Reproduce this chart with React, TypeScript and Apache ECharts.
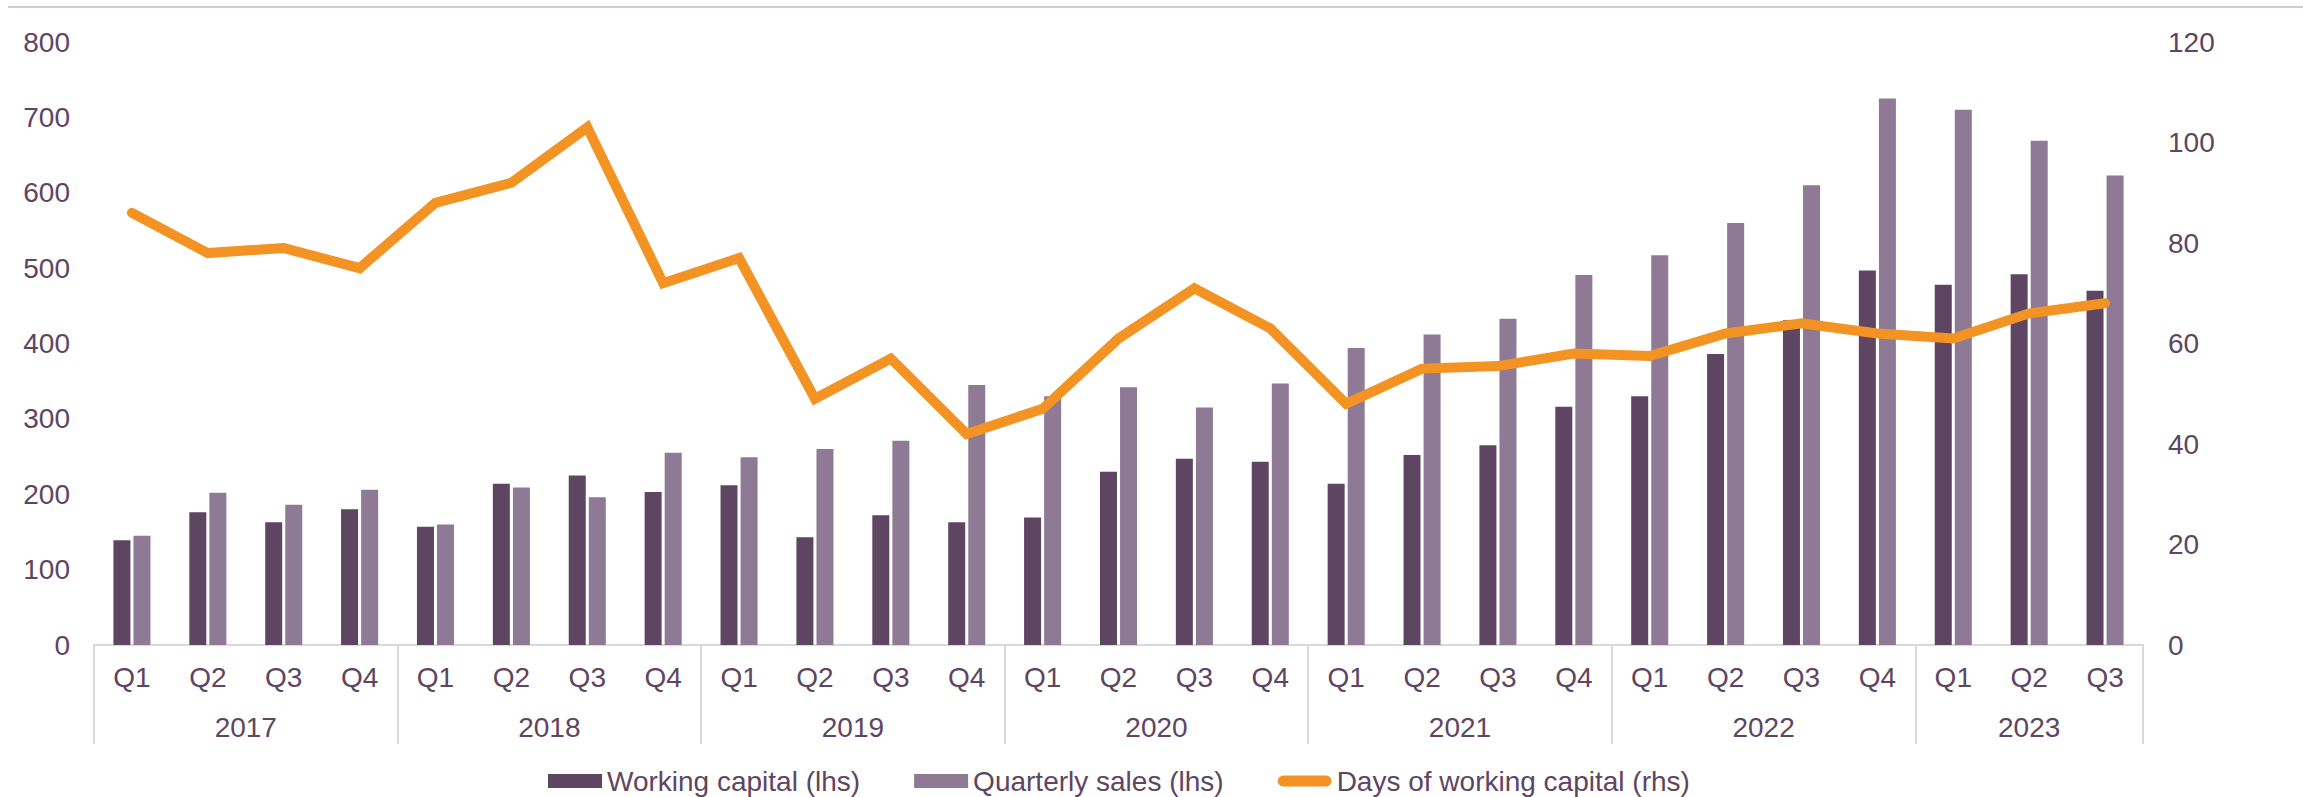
import React, { useEffect, useRef } from "react";
import * as echarts from "echarts";

const years = ["2017", "2018", "2019", "2020", "2021", "2022", "2023"];
const quartersPerYear = [4, 4, 4, 4, 4, 4, 3];
const quarterNames = ["Q1", "Q2", "Q3", "Q4"];

const workingCapital = [
  139, 176, 163, 180,
  157, 214, 225, 203,
  212, 143, 172, 163,
  169, 230, 247, 243,
  214, 252, 265, 316,
  330, 386, 431, 497,
  478, 492, 470,
];
const quarterlySales = [
  145, 202, 186, 206,
  160, 209, 196, 255,
  249, 260, 271, 345,
  330, 342, 315, 347,
  394, 412, 433, 491,
  517, 560, 610, 725,
  710, 669, 623,
];
const daysOfWorkingCapital = [
  86, 78, 79, 75,
  88, 92, 103, 72,
  77, 49, 57, 42,
  47, 61, 71, 63,
  48, 55, 55.5, 58,
  57.5, 62, 64, 62,
  61, 66, 68,
];

const leftTicks = { min: 0, max: 800, interval: 100 };
const rightTicks = { min: 0, max: 120, interval: 20 };

const TEXT = "#5E4562";
const DARK = "#5E4562";
const LIGHT = "#8E7A95";
const ORANGE = "#F39323";
const AXIS = "#D9D9D9";
const FONT = "'Liberation Sans', Arial, sans-serif";

export default function App() {
  const ref = useRef<HTMLDivElement>(null);

  useEffect(() => {
    if (!ref.current) return;
    const chart = echarts.init(ref.current, undefined, { renderer: "svg" });

    const categories: string[] = [];
    const yearCenters: { pos: number; label: string }[] = [];
    let start = 0;
    years.forEach((y, i) => {
      const n = quartersPerYear[i];
      for (let q = 0; q < n; q++) categories.push(y + " " + quarterNames[q]);
      yearCenters.push({ pos: start + n / 2, label: y });
      start += n;
    });
    const total = categories.length;

    const option: any = {
      animation: false,
      backgroundColor: "#ffffff",
      textStyle: { fontFamily: FONT },
      grid: { left: 94, right: 160, top: 42, bottom: 152, containLabel: false },
      legend: {
        left: 548,
        top: 767,
        padding: 0,
        itemWidth: 54,
        itemHeight: 14,
        itemGap: 54,
        textStyle: { color: TEXT, fontSize: 28, lineHeight: 28, fontFamily: FONT },
        data: [
          { name: "Working capital (lhs)", icon: "rect" },
          { name: "Quarterly sales (lhs)", icon: "rect" },
          {
            name: "Days of working capital (rhs)",
            icon: "path://M6,0 L54,0 A6,6 0 0 1 54,12 L6,12 A6,6 0 0 1 6,0 Z",
          },
        ],
      },
      xAxis: [
        {
          type: "category",
          data: categories,
          position: "bottom",
          axisLine: { show: true, lineStyle: { color: AXIS, width: 2 } },
          axisTick: { show: false },
          axisLabel: {
            color: TEXT,
            fontSize: 28,
            fontFamily: FONT,
            interval: 0,
            margin: 18,
            formatter: (v: string) => v.split(" ")[1],
          },
          splitLine: { show: false },
        },
        {
          type: "value",
          position: "bottom",
          min: 0,
          max: total,
          interval: 4,
          axisLine: { show: false },
          axisTick: { show: true, length: 99, lineStyle: { color: AXIS, width: 2 } },
          axisLabel: { show: false },
          splitLine: { show: false },
        },
        {
          type: "value",
          position: "bottom",
          min: 0,
          max: total,
          interval: 0.5,
          axisLine: { show: false },
          axisTick: { show: false },
          splitLine: { show: false },
          axisLabel: {
            show: true,
            color: TEXT,
            fontSize: 28,
            fontFamily: FONT,
            margin: 68,
            showMinLabel: true,
            showMaxLabel: true,
            formatter: (v: number) => {
              const f = yearCenters.find((c) => Math.abs(c.pos - v) < 1e-6);
              return f ? f.label : "";
            },
          },
        },
      ],
      yAxis: [
        {
          type: "value",
          position: "left",
          min: leftTicks.min,
          max: leftTicks.max,
          interval: leftTicks.interval,
          axisLine: { show: false },
          axisTick: { show: false },
          splitLine: { show: false },
          axisLabel: { color: TEXT, fontSize: 28, fontFamily: FONT, margin: 24 },
        },
        {
          type: "value",
          position: "right",
          min: rightTicks.min,
          max: rightTicks.max,
          interval: rightTicks.interval,
          axisLine: { show: false },
          axisTick: { show: false },
          splitLine: { show: false },
          axisLabel: { color: TEXT, fontSize: 28, fontFamily: FONT, margin: 25 },
        },
      ],
      series: [
        {
          name: "Working capital (lhs)",
          type: "bar",
          xAxisIndex: 0,
          yAxisIndex: 0,
          data: workingCapital,
          barWidth: 17,
          barGap: "18%",
          itemStyle: { color: DARK },
          z: 2,
        },
        {
          name: "Quarterly sales (lhs)",
          type: "bar",
          xAxisIndex: 0,
          yAxisIndex: 0,
          data: quarterlySales,
          barWidth: 17,
          barGap: "18%",
          itemStyle: { color: LIGHT },
          z: 2,
        },
        {
          name: "Days of working capital (rhs)",
          type: "line",
          xAxisIndex: 0,
          yAxisIndex: 1,
          data: daysOfWorkingCapital,
          showSymbol: false,
          symbol: "none",
          itemStyle: { color: ORANGE },
          lineStyle: { color: ORANGE, width: 10, cap: "round", join: "miter" },
          z: 5,
        },
      ],
      graphic: [
        {
          type: "line",
          shape: { x1: 8, y1: 7, x2: 2303, y2: 7 },
          style: { stroke: "#D3CCD8", lineWidth: 2 },
          silent: true,
        },
      ],
    };

    chart.setOption(option);
    return () => chart.dispose();
  }, []);

  return (
    <div
      ref={ref}
      style={{ position: "fixed", left: 0, top: 0, width: 2303, height: 797, background: "#fff" }}
    />
  );
}
